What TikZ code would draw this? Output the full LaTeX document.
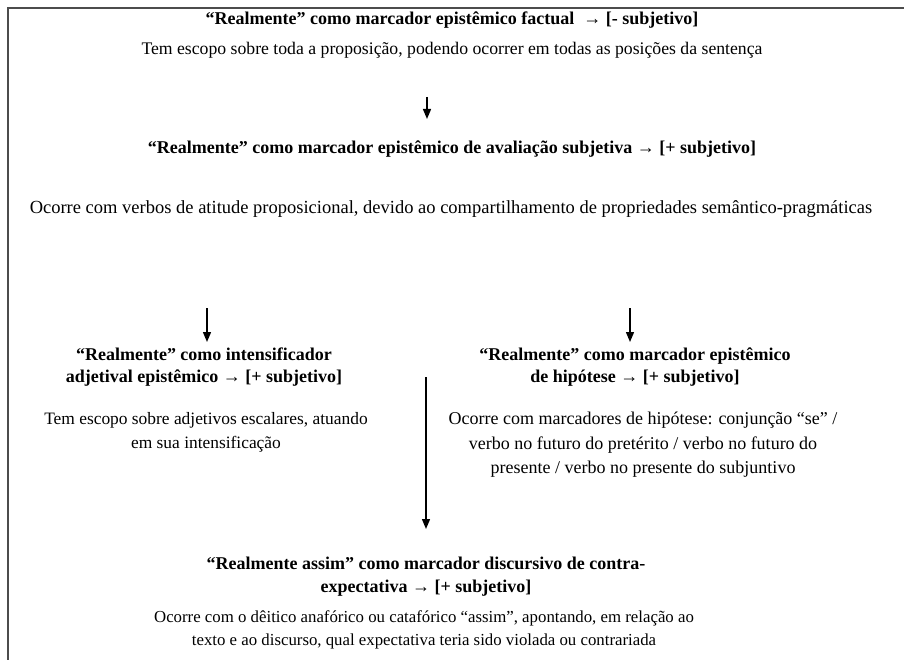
\documentclass[tikz,border=0pt]{standalone}
\usepackage{fontspec}
\setmainfont{Liberation Serif}
\usetikzlibrary{arrows.meta}
\begin{document}
\begin{tikzpicture}[x=1pt,y=-1pt,
  every node/.style={inner sep=0pt,align=center},
  ttl/.style={font=\fontsize{18}{21.5}\selectfont\bfseries},
  desc/.style={font=\fontsize{17.7}{24}\selectfont},
  arr/.style={line width=1.4pt,-{Triangle[length=10pt,width=8pt]}},
  frame/.style={draw=black!70,line width=2pt}]
\useasboundingbox (0,0) rectangle (904,660);
\draw[frame] (8,661) -- (8,8) -- (905,8);
\node[ttl] (t1) at (452,20) {“Realmente” como marcador epistêmico factual~ → [- subjetivo]};
\node[desc] (d1) at (452,50) {Tem escopo sobre toda a proposição, podendo ocorrer em todas as posições da sentença};
\node[ttl] (t2) at (452,149) {“Realmente” como marcador epistêmico de avaliação subjetiva → [+ subjetivo]};
\node[desc,font=\fontsize{18.5}{24}\selectfont] (d2) at (451,209) {Ocorre com verbos de atitude proposicional, devido ao compartilhamento de propriedades semântico-pragmáticas};
\node[ttl] (tl) at (204,367) {“Realmente” como intensificador\\adjetival epistêmico → [+ subjetivo]};
\node[ttl] (tr) at (635,367) {“Realmente” como marcador epistêmico\\de hipótese → [+ subjetivo]};
\node[desc,font=\fontsize{17.4}{24}\selectfont] (dl) at (206,432) {Tem escopo sobre adjetivos escalares, atuando\\em sua intensificação};
\node[desc,font=\fontsize{18}{24.5}\selectfont] (dr) at (643,445) {Ocorre com marcadores de hipótese: conjunção “se” /\\verbo no futuro do pretérito / verbo no futuro do\\presente / verbo no presente do subjuntivo};
\node[ttl,font=\fontsize{18}{23}\selectfont\bfseries] (tb) at (426,577) {“Realmente assim” como marcador discursivo de contra-\\expectativa → [+ subjetivo]};
\node[desc,font=\fontsize{16.8}{23}\selectfont] (db) at (424,630) {Ocorre com o dêitico anafórico ou catafórico “assim”, apontando, em relação ao\\texto e ao discurso, qual expectativa teria sido violada ou contrariada};
\coordinate (a1s) at (427,97);
\coordinate (a1e) at (427,119);
\coordinate (a2s) at (207,308);
\coordinate (a2e) at (207,342);
\coordinate (a3s) at (630,308);
\coordinate (a3e) at (630,342);
\coordinate (a4s) at (426,377);
\coordinate (a4e) at (426,529);
\draw[arr] (a1s) -- (a1e);
\draw[arr] (a2s) -- (a2e);
\draw[arr] (a3s) -- (a3e);
\draw[arr] (a4s) -- (a4e);
\end{tikzpicture}
\end{document}
